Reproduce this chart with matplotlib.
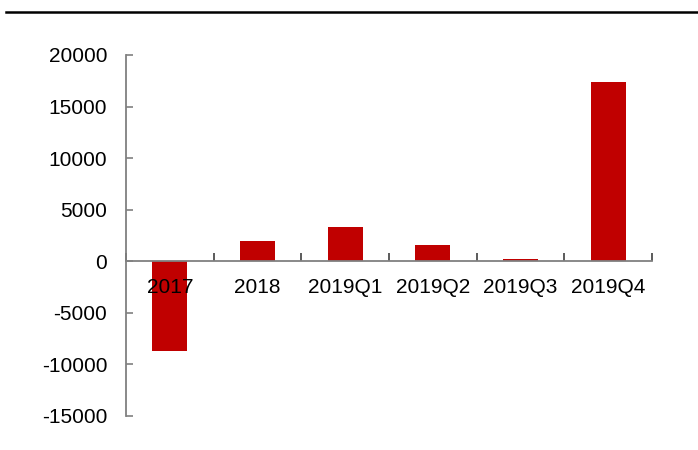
import numpy as np
import matplotlib
matplotlib.use('Agg')
import matplotlib.pyplot as plt
from matplotlib.lines import Line2D

plt.rcParams['font.family'] = ['Liberation Sans', 'DejaVu Sans']

categories = ['2017', '2018', '2019Q1', '2019Q2', '2019Q3', '2019Q4']
values = [-8700, 1970, 3360, 1620, 200, 17400]
y_ticks = [-15000, -10000, -5000, 0, 5000, 10000, 15000, 20000]

BAR_COLOR = '#C00000'
AXIS_COLOR = '#808080'

fig = plt.figure(figsize=(6.98, 4.5), dpi=100)
ax = fig.add_axes([0.1805, 0.0756, 0.934 - 0.1805, 0.8778 - 0.0756])

x = np.arange(len(categories))
ax.bar(x, values, width=0.4, color=BAR_COLOR, zorder=1)

ax.set_xlim(-0.5, len(categories) - 0.5)
ax.set_ylim(y_ticks[0], y_ticks[-1])

# 坐标轴: 横轴放在 0 处
for side in ['top', 'right']:
    ax.spines[side].set_visible(False)
ax.spines['bottom'].set_position(('data', 0))
for side in ['left', 'bottom']:
    ax.spines[side].set_color(AXIS_COLOR)
    ax.spines[side].set_linewidth(1.3)

ax.set_yticks(y_ticks)
ax.set_yticklabels([str(v) for v in y_ticks], fontsize=15)
ax.tick_params(axis='y', direction='in', length=5, width=1.2,
               color=AXIS_COLOR, pad=13.5)

# 类别标签在中间, 刻度线在类别分界处
ax.set_xticks(x)
ax.set_xticklabels(categories, fontsize=15)
ax.tick_params(axis='x', which='major', length=0, pad=12)
ax.set_xticks(np.arange(len(categories) + 1) - 0.5, minor=True)
ax.tick_params(axis='x', which='minor', direction='in', length=6,
               width=1.2, color='#404040')

# 顶部横线
fig.add_artist(Line2D([6 / 698, 1.0], [1 - 12 / 450, 1 - 12 / 450],
                      color='black', linewidth=1.8))

fig.savefig('out.png', dpi=100)
